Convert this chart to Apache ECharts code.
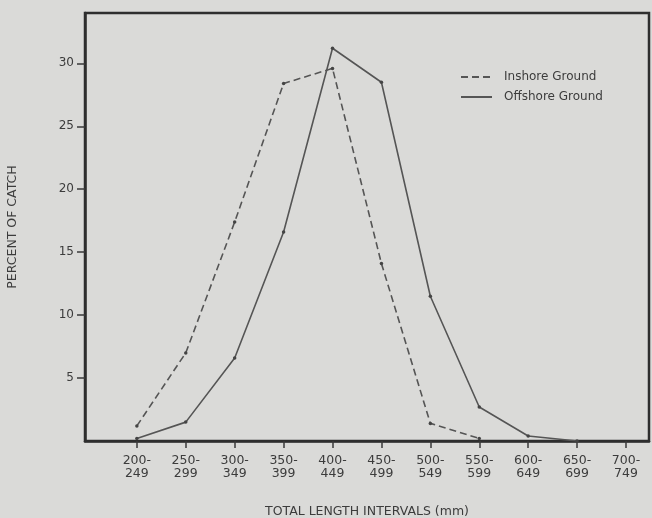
<!DOCTYPE html>
<html>
<head>
<meta charset="utf-8">
<title>Percent of catch by length interval</title>
<script src="https://cdn.jsdelivr.net/npm/echarts@6/dist/echarts.min.js"></script>
<style>
  html, body { margin: 0; padding: 0; background: #dadad8; }
  #chart { width: 652px; height: 518px; }
</style>
</head>
<body>
<div id="chart"></div>
<script>
(function() {
  'use strict';

  // length intervals (mm)
  var intervals = ['200-\n249', '250-\n299', '300-\n349', '350-\n399', '400-\n449', '450-\n499',
    '500-\n549', '550-\n599', '600-\n649', '650-\n699', '700-\n749'];
  var yTicks = [5, 10, 15, 20, 25, 30];

  // percent of catch
  var inshore = [1.2, 7.0, 17.4, 28.4, 29.6, 14.1, 1.4, 0.2];
  var offshore = [0.2, 1.5, 6.6, 16.6, 31.2, 28.5, 11.5, 2.7, 0.4, 0.0];

  function pairs(arr) {
    return arr.map(function(v, i) { return [i, v]; });
  }

  var ink = '#3c3c3c';
  var lineInk = '#555555';
  var font = 'DejaVu Sans';
  var xPos = intervals.map(function(l, i) { return i; });

  var myChart = echarts.init(document.getElementById('chart'));

  var option = {
    backgroundColor: '#dadad8',
    animation: false,
    textStyle: { fontFamily: font },
    grid: {
      left: 85, top: 13, right: 3, bottom: 77,
      outerBoundsMode: 'none',
      show: true, borderColor: '#2e2e2e', borderWidth: 2.5
    },
    legend: {
      left: 455, top: 66,
      orient: 'vertical',
      itemWidth: 31, itemHeight: 12, itemGap: 8,
      itemStyle: { opacity: 0 },
      textStyle: { color: ink, fontSize: 12, fontFamily: font, padding: [0, 0, 0, 7] },
      data: ['Inshore Ground', 'Offshore Ground']
    },
    xAxis: {
      type: 'value',
      min: -1.06, max: 10.47,
      name: 'TOTAL LENGTH INTERVALS (mm)',
      nameLocation: 'middle',
      nameGap: 64,
      nameTextStyle: { color: ink, fontSize: 12.5, fontFamily: font },
      splitLine: { show: false },
      axisLine: { onZero: false, lineStyle: { color: '#2e2e2e', width: 2.5 } },
      axisTick: {
        customValues: xPos,
        length: 7,
        lineStyle: { color: '#3a3a3a', width: 1.5 }
      },
      axisLabel: {
        customValues: xPos,
        color: ink, fontSize: 12.5, lineHeight: 13, margin: 13,
        formatter: function(v) { return intervals[Math.round(v)]; }
      }
    },
    yAxis: {
      type: 'value',
      min: 0, max: 34,
      name: 'PERCENT OF CATCH',
      nameLocation: 'middle',
      nameGap: 66,
      nameTextStyle: { color: ink, fontSize: 12.5, fontFamily: font },
      splitLine: { show: false },
      axisLine: { onZero: false, lineStyle: { color: '#2e2e2e', width: 2.5 } },
      axisTick: {
        customValues: yTicks,
        length: 8,
        lineStyle: { color: '#3a3a3a', width: 1.5 }
      },
      axisLabel: {
        customValues: yTicks,
        color: ink, fontSize: 12, margin: 11
      }
    },
    series: [{
      name: 'Inshore Ground',
      type: 'line',
      data: pairs(inshore),
      symbol: 'circle',
      symbolSize: 3.5,
      itemStyle: { color: '#444' },
      lineStyle: { color: lineInk, width: 1.6, type: [7, 4] }
    }, {
      name: 'Offshore Ground',
      type: 'line',
      data: pairs(offshore),
      symbol: 'circle',
      symbolSize: 3.5,
      itemStyle: { color: '#444' },
      lineStyle: { color: lineInk, width: 1.6 }
    }]
  };

  myChart.setOption(option);
}());
</script>
</body>
</html>
